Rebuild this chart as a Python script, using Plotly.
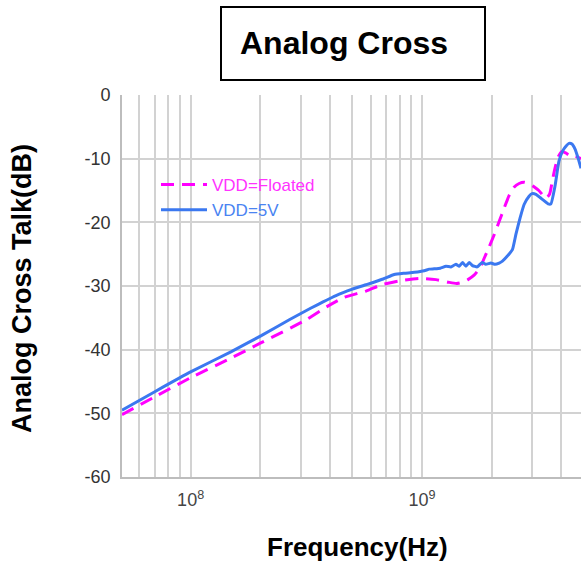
import plotly.graph_objects as go

# ---------------- data ----------------
freq_5v = [5.05e7, 7.0e7, 1.0e8, 1.5e8, 2.02e8, 2.67e8, 3.3e8, 4.25e8, 5.0e8, 5.73e8,
           6.8e8, 7.59e8, 8.39e8, 9.26e8, 1.023e9, 1.075e9, 1.13e9, 1.2e9, 1.27e9,
           1.334e9, 1.402e9, 1.449e9, 1.497e9, 1.549e9, 1.6e9, 1.654e9, 1.733e9,
           1.821e9, 1.889e9, 1.986e9, 2.072e9, 2.157e9, 2.228e9, 2.34e9, 2.46e9,
           2.55e9, 2.656e9, 2.764e9, 2.904e9, 2.99e9, 3.11e9, 3.24e9, 3.37e9, 3.51e9,
           3.61e9, 3.76e9, 3.91e9, 4.07e9, 4.20e9, 4.32e9, 4.45e9, 4.59e9, 4.73e9,
           4.87e9]
db_5v = [-49.5, -46.6, -43.5, -40.3, -37.8, -35.3, -33.5, -31.5, -30.5, -29.8,
         -28.9, -28.2, -28.0, -27.85, -27.6, -27.35, -27.3, -27.2, -26.9,
         -27.0, -26.6, -26.9, -26.3, -26.9, -26.3, -26.8, -27.0,
         -26.3, -26.6, -26.4, -26.6, -26.4, -26.1, -25.3, -24.3,
         -21.8, -19.3, -17.2, -15.9, -15.5, -15.6, -16.1, -16.6, -17.1,
         -17.1, -14.3, -10.4, -8.7, -8.0, -7.6, -7.7, -8.5, -9.9,
         -11.5]

freq_float = [5.05e7, 7.0e7, 1.0e8, 1.5e8, 2.02e8, 3.16e8, 3.9e8, 4.6e8, 5.73e8,
              6.7e8, 7.98e8, 9.73e8, 1.15e9, 1.3e9, 1.41e9, 1.5e9, 1.58e9, 1.68e9,
              1.79e9, 1.86e9, 1.95e9, 2.05e9, 2.16e9, 2.27e9, 2.38e9, 2.5e9, 2.63e9,
              2.76e9, 2.9e9, 3.05e9, 3.2e9, 3.43e9, 3.56e9, 3.66e9, 3.76e9, 3.87e9,
              4.02e9, 4.18e9, 4.35e9, 4.59e9, 4.87e9]
db_float = [-50.2, -47.4, -44.4, -41.3, -38.9, -35.3, -33.2, -31.8, -30.8,
            -29.8, -29.2, -28.8, -29.0, -29.4, -29.6, -29.4, -29.0, -28.3,
            -27.0, -25.6, -23.9, -22.0, -19.8, -17.7, -15.8, -14.5, -13.9,
            -13.7, -13.9, -14.4, -15.0, -16.2, -15.6, -13.5, -11.5, -9.8,
            -8.9, -9.1, -9.5, -9.6, -10.0]

x_grid_vals = [6e7, 7e7, 8e7, 9e7, 1e8, 2e8, 3e8, 4e8, 5e8, 6e8, 7e8, 8e8, 9e8,
               1e9, 2e9, 3e9, 4e9]
x_grid_text = ["", "", "", "", "10<sup>8</sup>", "", "", "", "", "", "", "", "",
               "10<sup>9</sup>", "", "", ""]
y_tick_vals = [0, -10, -20, -30, -40, -50, -60]
y_tick_text = ["0", "-10", "-20", "-30", "-40", "-50", "-60"]

MAGENTA = "#FF00FF"
BLUE = "#3B78F0"
FONT = "Liberation Sans, Arial, sans-serif"

fig = go.Figure()
fig.add_trace(go.Scatter(
    x=freq_float, y=db_float, mode="lines",
    name="<span style='color:#FF33FF'>VDD=Floated</span>",
    line=dict(color=MAGENTA, width=3, dash="13px,8px", shape="spline", smoothing=0.6),
))
fig.add_trace(go.Scatter(
    x=freq_5v, y=db_5v, mode="lines",
    name="<span style='color:#4A84F2'>VDD=5V</span>",
    line=dict(color=BLUE, width=3, shape="spline", smoothing=0.4),
))

# plot area in window pixels (page body margin is removed below)
FIG_W, FIG_H = 581, 564
PL, PT, PB = 122, 95, 477
L, T, R = PL, PT, 0
B = FIG_H - PB
W = FIG_W - L - R
H = FIG_H - T - B


def px(xp):
    return (xp - PL) / W


def py(yp):
    return (PB - yp) / H


fig.update_layout(
    width=FIG_W, height=FIG_H, autosize=False,
    margin=dict(l=L, r=R, t=T, b=B, pad=0),
    paper_bgcolor="white", plot_bgcolor="white",
    font=dict(family=FONT, color="#333333"),
    showlegend=True,
    legend=dict(x=px(156), y=py(167), xanchor="left", yanchor="top",
                bgcolor="rgba(0,0,0,0)", font=dict(size=17, family=FONT),
                itemwidth=46, tracegroupgap=2),
    xaxis=dict(
        type="log",
        range=[7.7033, 9.6875],
        tickmode="array", tickvals=x_grid_vals, ticktext=x_grid_text,
        showgrid=True, gridcolor="#d2d2d2", gridwidth=1.6,
        showline=True, linecolor="#bdbdbd", linewidth=1.6,
        ticks="", zeroline=False,
        tickfont=dict(size=18, color="#444444", family=FONT),
        ticklabelstandoff=6,
    ),
    yaxis=dict(
        range=[-60, 0],
        tickmode="array", tickvals=y_tick_vals, ticktext=y_tick_text,
        showgrid=True, gridcolor="#d2d2d2", gridwidth=1.6,
        showline=True, linecolor="#bdbdbd", linewidth=1.6,
        ticks="", zeroline=False,
        tickfont=dict(size=18, color="#333333", family=FONT),
        ticklabelstandoff=6,
    ),
)

# Title box
fig.add_shape(type="rect", xref="paper", yref="paper",
              x0=px(221), x1=px(485), y0=py(80), y1=py(7),
              line=dict(color="black", width=2), fillcolor="white", layer="above")
fig.add_annotation(text="<b>Analog Cross</b>", xref="paper", yref="paper",
                   x=px(344), y=py(43), xanchor="center", yanchor="middle",
                   showarrow=False, font=dict(size=32, color="black", family=FONT))

# Axis titles
fig.add_annotation(text="<b>Analog Cross Talk(dB)</b>", xref="paper", yref="paper",
                   x=px(22), y=py(289), xanchor="center", yanchor="middle",
                   textangle=-90, showarrow=False,
                   font=dict(size=27, color="black", family=FONT))
fig.add_annotation(text="<b>Frequency(Hz)</b>", xref="paper", yref="paper",
                   x=px(357), y=py(547), xanchor="center", yanchor="middle",
                   showarrow=False, font=dict(size=26, color="black", family=FONT))

fig.write_html("out.html", config={"displayModeBar": False},
               post_script="document.body.style.margin='0';document.body.style.padding='0';")
